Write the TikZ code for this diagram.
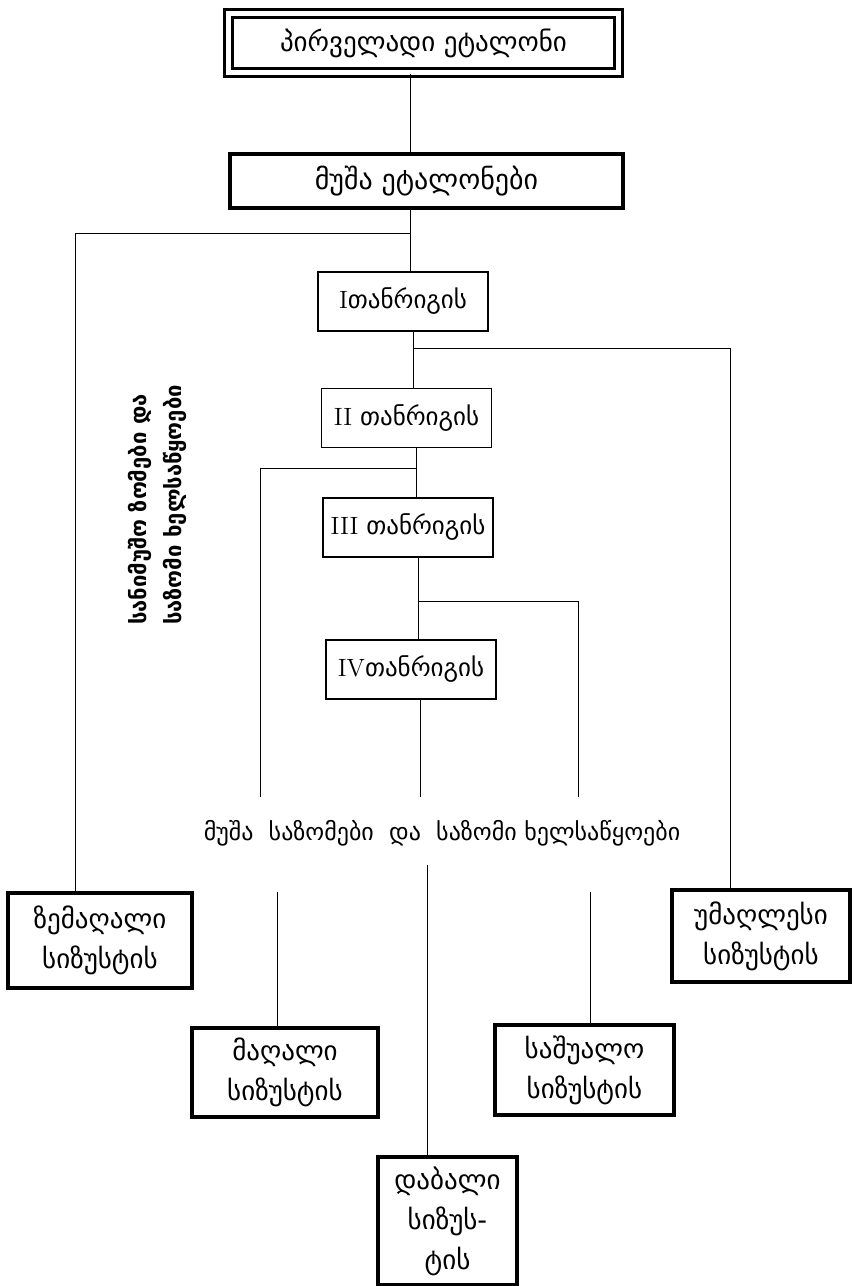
\documentclass[tikz,border=0pt]{standalone}
\usepackage{fontspec}
\newfontfamily\geo{DejaVu Sans}
\usetikzlibrary{positioning}

\begin{document}
\begin{tikzpicture}[
    x=0.5pt, y=-0.5pt,
    rank/.style={rectangle, draw, line width=0.7pt, minimum width=85pt, minimum height=29.5pt, inner sep=1pt, font=\geo\fontsize{12.5}{14}\selectfont},
    grade/.style={rectangle, draw, line width=1.6pt, align=center, inner sep=1pt, font=\geo\fontsize{13.5}{20}\selectfont},
    link/.style={line width=0.5pt}
]
    \useasboundingbox (0,0) rectangle (854,1286);

    \node (prim) [draw, line width=1.3pt, double, double distance=2.8pt, minimum width=195pt, minimum height=29.5pt, font=\geo\fontsize{13.5}{15}\selectfont] at (423.5,43) {პირველადი ეტალონი};
    \node (work) [grade, minimum width=196.5pt, minimum height=27pt, font=\geo\fontsize{14}{16}\selectfont] at (426.5,181) {მუშა ეტალონები};
    \node (r1) [rank] at (403,301.5) {{\rmfamily I}თანრიგის};
    \node (r2) [rank] at (406.5,418) {{\rmfamily II} თანრიგის};
    \node (r3) [rank] at (408,527.5) {{\rmfamily III} თანრიგის};
    \node (r4) [rank] at (411,669.5) {{\rmfamily IV}თანრიგის};
    \node (tools) [font=\geo\fontsize{12}{14}\selectfont] at (442,833) {მუშა\ \ საზომები\ \ და\ \ საზომი ხელსაწყოები};
    \node (note) [rotate=90, align=left, font=\geo\bfseries\fontsize{11}{17.5}\selectfont] at (157,505) {სანიმუშო ზომები და\\საზომი ხელსაწყოები};

    \node (ultra) [grade, minimum width=92pt, minimum height=47.5pt] at (100,940.5) {ზემაღალი\\სიზუსტის};
    \node (highest) [grade, minimum width=89pt, minimum height=46pt] at (761,936) {უმაღლესი\\სიზუსტის};
    \node (high) [grade, minimum width=93pt, minimum height=44.5pt] at (285,1072.5) {მაღალი\\სიზუსტის};
    \node (mid) [grade, minimum width=89.5pt, minimum height=45pt] at (584.5,1070) {საშუალო\\სიზუსტის};
    \node (low) [grade, minimum width=69.5pt, minimum height=64pt] at (447.5,1221) {დაბალი\\სიზუს-\\ტის};

    \coordinate (b1) at (410,233);
    \coordinate (b2) at (413,348);
    \coordinate (b3) at (416,468);
    \coordinate (b4) at (418,601);
    \coordinate (lx) at (75,0);
    \coordinate (rx) at (730,0);
    \coordinate (e2) at (260,797);
    \coordinate (e0) at (420,797);
    \coordinate (e4) at (578,797);
    \coordinate (s2) at (277,892);
    \coordinate (s0) at (427,865);
    \coordinate (s4) at (590,892);

    \draw [link] (prim.south -| b1) -- (work.north -| b1);
    \draw [link] (work.south -| b1) -- (r1.north -| b1);
    \draw [link] (b1) -| (ultra.north -| lx);
    \draw [link] (r1.south -| b2) -- (r2.north -| b2);
    \draw [link] (b2) -| (highest.north -| rx);
    \draw [link] (r2.south -| b3) -- (r3.north -| b3);
    \draw [link] (b3) -| (e2);
    \draw [link] (r3.south -| b4) -- (r4.north -| b4);
    \draw [link] (b4) -| (e4);
    \draw [link] (r4.south -| e0) -- (e0);
    \draw [link] (s2) -- (high.north -| s2);
    \draw [link] (s0) -- (low.north -| s0);
    \draw [link] (s4) -- (mid.north -| s4);
\end{tikzpicture}
\end{document}
